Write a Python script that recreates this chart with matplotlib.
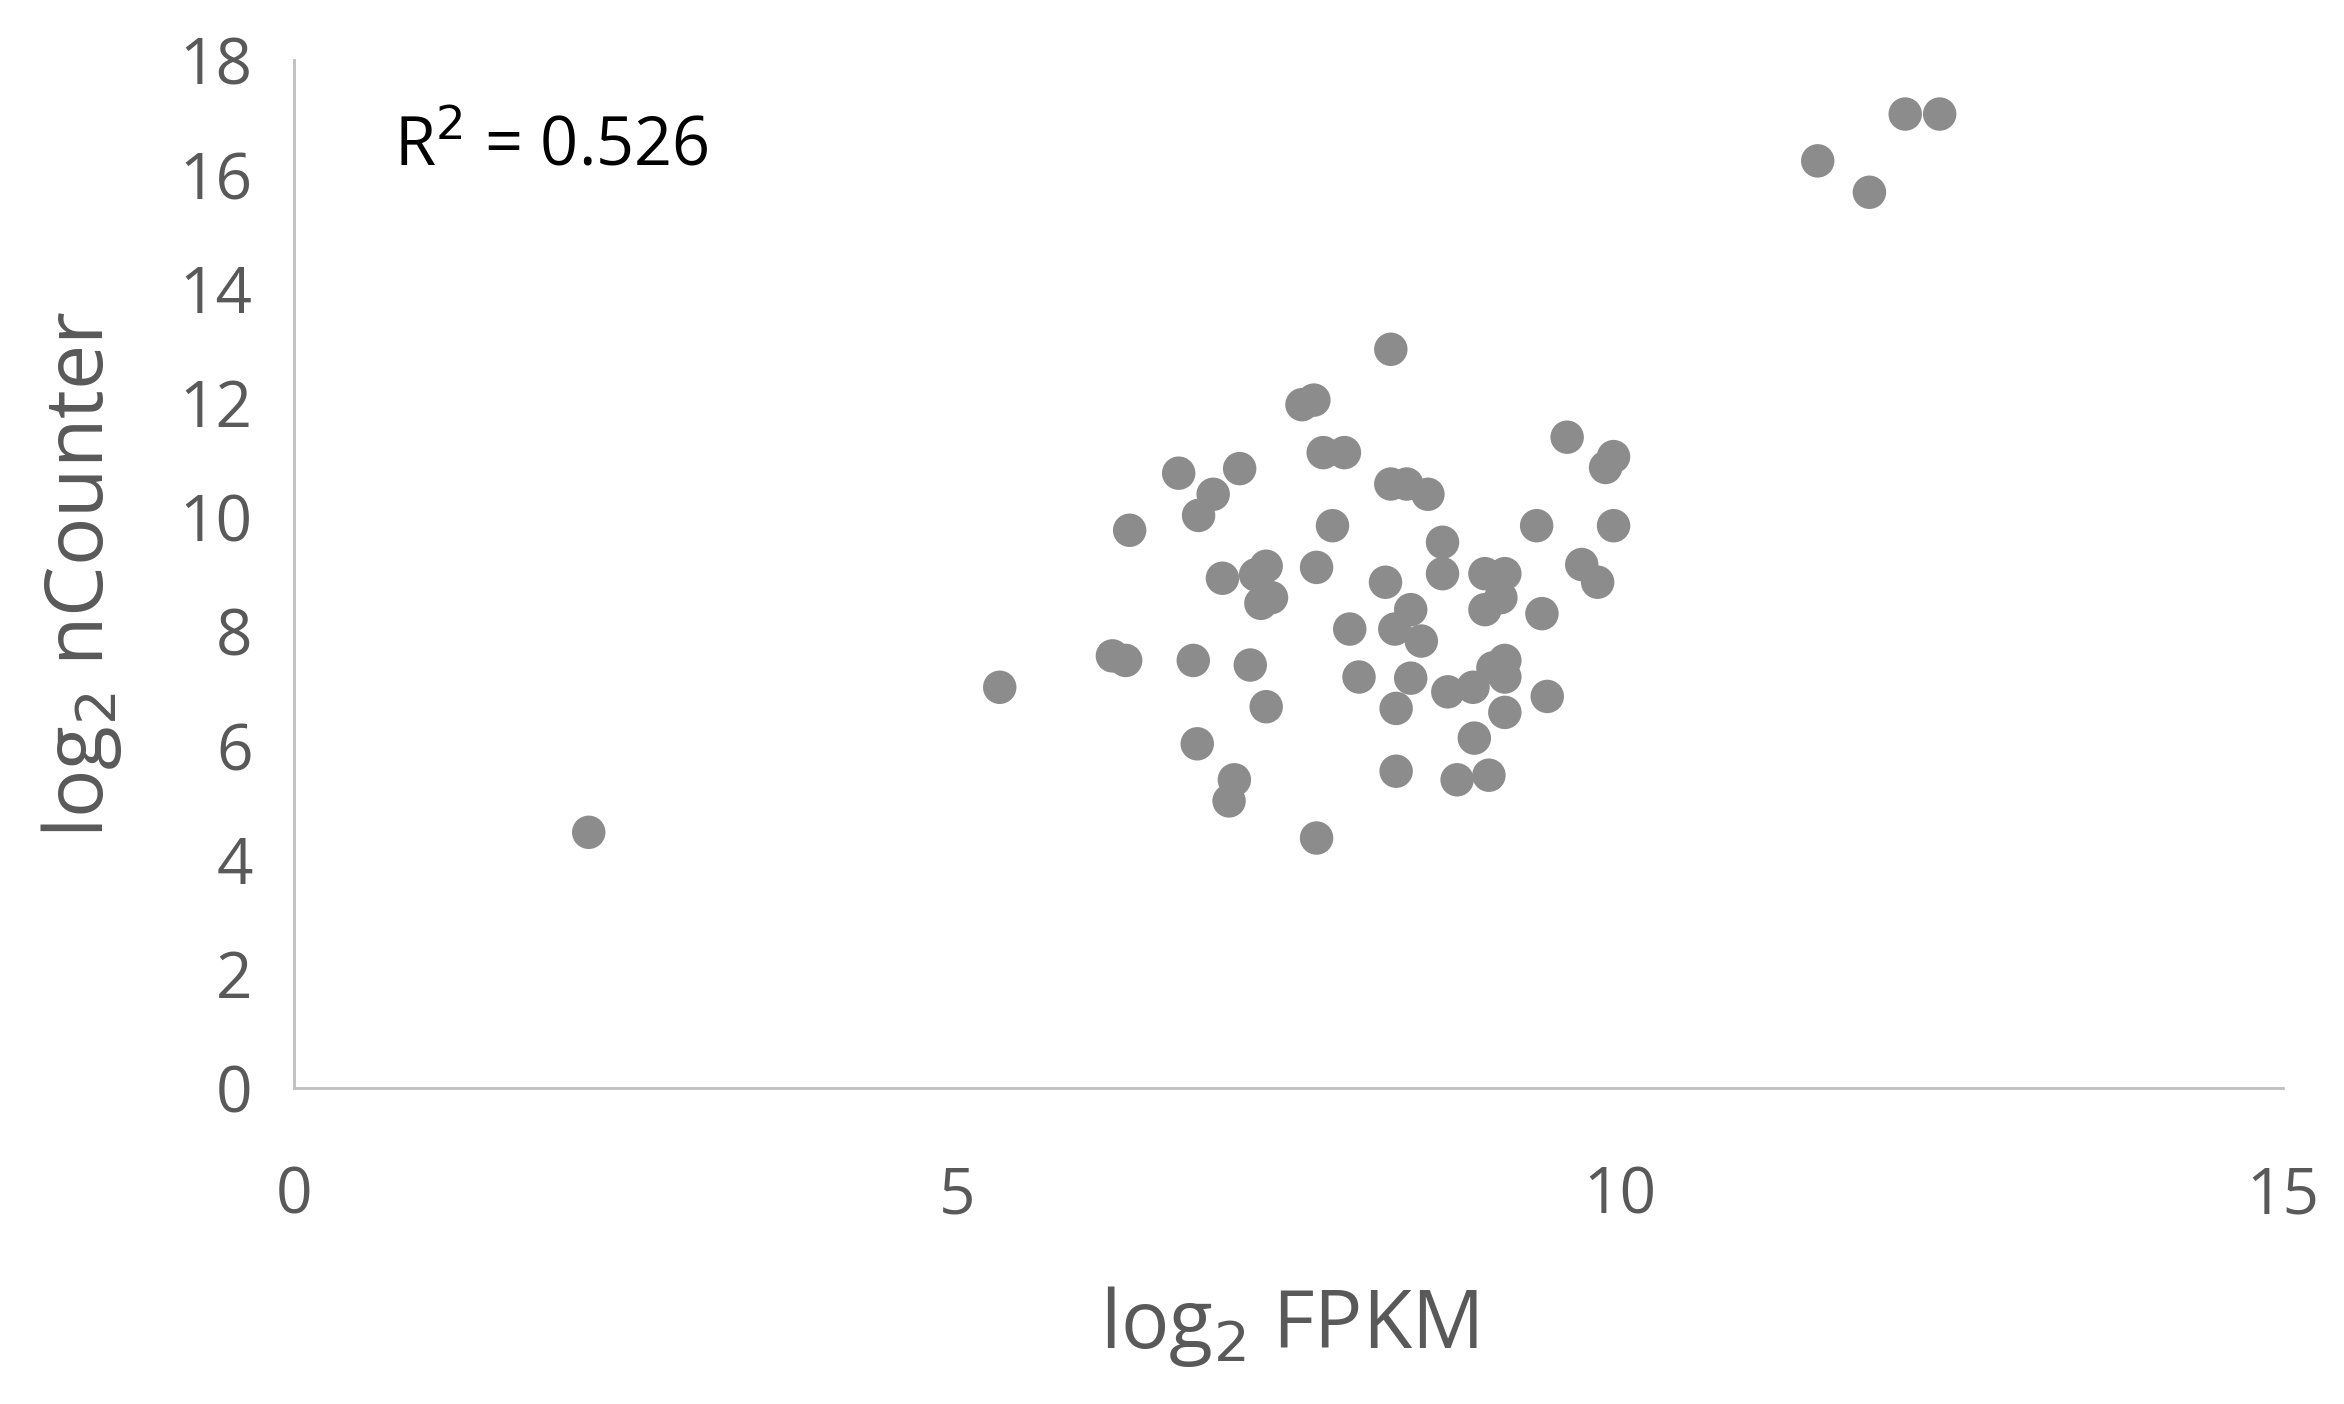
import matplotlib
matplotlib.use("Agg")
import matplotlib.pyplot as plt

plt.rcParams['font.family'] = ['Open Sans', 'DejaVu Sans']

# log2 FPKM vs log2 nCounter
fpkm = [2.22, 5.32, 6.17, 6.27, 6.30, 6.67, 6.78, 6.81, 6.82, 6.93, 7.00, 7.05, 7.09,
        7.13, 7.21, 7.25, 7.29, 7.33, 7.33, 7.37, 7.60, 7.69, 7.71, 7.71, 7.76, 7.83,
        7.92, 7.96, 8.03, 8.23, 8.27, 8.27, 8.30, 8.31, 8.31, 8.39, 8.42, 8.42, 8.50,
        8.55, 8.66, 8.66, 8.70, 8.77, 8.89, 8.90, 8.98, 8.98, 9.01, 9.04, 9.10, 9.13,
        9.13, 9.13, 9.13, 9.37, 9.41, 9.45, 9.60, 9.71, 9.83, 9.89, 9.95, 9.95,
        11.49, 11.88, 12.15, 12.41]
ncounter = [4.48, 7.02, 7.57, 7.49, 9.77, 10.77, 7.49, 6.03, 10.03, 10.40, 8.93, 5.03, 5.40,
            10.85, 7.41, 8.99, 8.49, 9.14, 6.68, 8.59, 11.97, 12.05, 9.12, 4.38, 11.13, 9.85,
            11.13, 8.04, 7.20, 8.86, 12.94, 10.58, 8.04, 6.65, 5.55, 10.58, 8.38, 7.18, 7.83,
            10.40, 9.56, 9.01, 6.94, 5.40, 7.02, 6.13, 9.01, 8.38, 5.48, 7.36, 8.59, 9.01,
            7.49, 7.20, 6.58, 9.85, 8.31, 6.86, 11.40, 9.17, 8.86, 10.87, 11.06, 9.85,
            16.24, 15.69, 17.06, 17.06]
xticks = [0, 5, 10, 15]
yticks = list(range(0, 19, 2))

fig = plt.figure(figsize=(23.44, 14.04), dpi=100)
ax = fig.add_axes([0.1256, 0.225, 0.8484, 0.732])
ax.scatter(fpkm, ncounter, s=580, color='#8c8c8c', edgecolors='none', zorder=3)

ax.set_xlim(0, 15)
ax.set_ylim(0, 18)
ax.set_xticks(xticks)
ax.set_yticks(yticks)
ax.tick_params(axis='both', length=0, labelsize=46, colors='#595959')
ax.tick_params(axis='x', pad=55)
ax.tick_params(axis='y', pad=30)
for s in ['top', 'right']:
    ax.spines[s].set_visible(False)
for s in ['left', 'bottom']:
    ax.spines[s].set_color('#bfbfbf')
    ax.spines[s].set_linewidth(2)

ax.set_xlabel('log$_2$ FPKM', fontsize=58, color='#595959', labelpad=40)
ax.set_ylabel('log$_2$ nCounter', fontsize=58, color='#595959', labelpad=40)
ax.text(0.05, 0.915, 'R$^2$ = 0.526', transform=ax.transAxes, fontsize=48,
        color='black', va='center')

fig.savefig('out.png', dpi=100)
